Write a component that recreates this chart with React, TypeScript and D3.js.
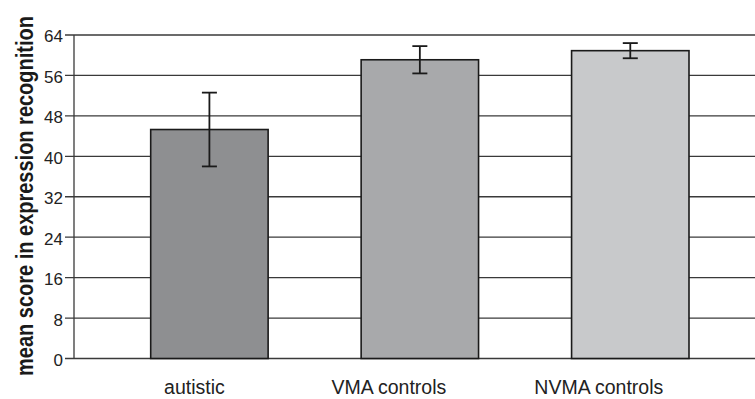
import React from "react";
import * as d3 from "d3";

const categories = ["autistic", "VMA controls", "NVMA controls"];
const means = [45.3, 59.1, 60.9];
const errors = [7.3, 2.7, 1.5];
const yTicks = [0, 8, 16, 24, 32, 40, 48, 56, 64];
const barColors = ["#8e8f91", "#a8a9ab", "#c8c9cb"];
const yTitle = "mean score in expression recognition";

// layout (styling) constants
const labelShift = [-15, -31, -31.5];

const W = 755;
const H = 399;

export default function App() {
  const axisX = 74;
  const y = d3.scaleLinear().domain([0, 64]).range([358.5, 35]);
  const x = d3
    .scaleBand<string>()
    .domain(categories)
    .range([150.7, 689])
    .paddingInner(0.442)
    .paddingOuter(0);
  const font = "'Liberation Sans', Arial, Helvetica, sans-serif";
  return (
    <svg
      width={W}
      height={H}
      style={{ position: "absolute", left: 0, top: 0, display: "block" }}
    >
      <rect x={0} y={0} width={W} height={H} fill="#fff" />
      {yTicks.map((t) => (
        <g key={t}>
          <line
            x1={axisX - 9}
            x2={W}
            y1={y(t)}
            y2={y(t)}
            stroke="#3a3a3a"
            strokeWidth={1.3}
          />
          <text
            x={63}
            y={y(t)}
            dy="0.44em"
            textAnchor="end"
            fontFamily={font}
            fontSize={17}
            fill="#222"
          >
            {t}
          </text>
        </g>
      ))}
      <line
        x1={axisX}
        x2={axisX}
        y1={y(64)}
        y2={y(0)}
        stroke="#3a3a3a"
        strokeWidth={1.3}
      />
      {categories.map((c, i) => {
        const bx = x(c)!;
        const bw = x.bandwidth();
        const cx = bx + bw / 2;
        return (
          <g key={c}>
            <rect
              x={bx}
              y={y(means[i])}
              width={bw}
              height={y(0) - y(means[i])}
              fill={barColors[i]}
              stroke="#1a1a1a"
              strokeWidth={1.6}
            />
            <line
              x1={cx}
              x2={cx}
              y1={y(means[i] + errors[i])}
              y2={y(means[i] - errors[i])}
              stroke="#1a1a1a"
              strokeWidth={1.8}
            />
            <line
              x1={cx - 7.5}
              x2={cx + 7.5}
              y1={y(means[i] + errors[i])}
              y2={y(means[i] + errors[i])}
              stroke="#1a1a1a"
              strokeWidth={1.8}
            />
            <line
              x1={cx - 7.5}
              x2={cx + 7.5}
              y1={y(means[i] - errors[i])}
              y2={y(means[i] - errors[i])}
              stroke="#1a1a1a"
              strokeWidth={1.8}
            />
            <text
              x={cx + labelShift[i]}
              y={394}
              textAnchor="middle"
              fontFamily={font}
              fontSize={19.5}
              fill="#222"
            >
              {c}
            </text>
          </g>
        );
      })}
      <text
        transform={`translate(33, 196) rotate(-90) scale(1, 1.18)`}
        textAnchor="middle"
        fontFamily={font}
        fontSize={20}
        fontWeight="bold"
        fill="#1a1a1a"
      >
        {yTitle}
      </text>
    </svg>
  );
}
